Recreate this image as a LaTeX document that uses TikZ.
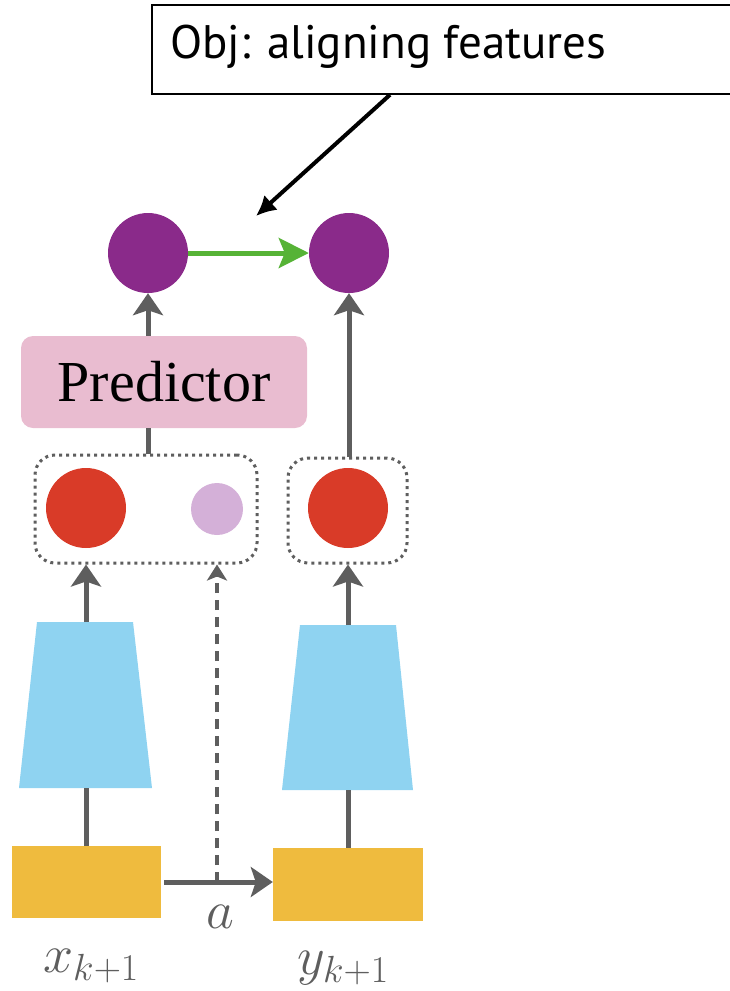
\RequirePackage{fix-cm}
\documentclass[tikz,border=0pt]{standalone}
\usepackage{fontspec}
\usepackage{amsmath,amssymb}
\usetikzlibrary{arrows.meta}
\newfontfamily\objfont{PT Sans}
\newfontfamily\predfont{Liberation Serif}

\definecolor{embpurple}{HTML}{8A2A8A}
\definecolor{embred}{HTML}{D93B28}
\definecolor{actlilac}{HTML}{D4B0D8}
\definecolor{predpink}{HTML}{E9BCD0}
\definecolor{encblue}{HTML}{8FD3F1}
\definecolor{imgyellow}{HTML}{EFBB3E}
\definecolor{aligngreen}{HTML}{56B336}
\definecolor{flowgray}{HTML}{5E5E5E}

\begin{document}
\begin{tikzpicture}[x=1pt,y=-1pt,
    emb/.style={circle,fill=#1,minimum size=80pt,inner sep=0pt},
    group/.style={draw=flowgray,line width=3pt,dash pattern=on 3pt off 4pt,rounded corners=20pt,inner sep=0pt},
    image/.style={fill=imgyellow,inner sep=0pt},
    flow/.style={draw=flowgray,line width=5pt,-{Stealth[length=22pt,width=30pt,inset=5pt]}},
    lbl/.style={text=flowgray,font=\fontsize{54}{60}\selectfont}]
  \useasboundingbox (0,0) rectangle (729,991);

  % inputs and action
  \node[image,minimum width=149pt,minimum height=72pt] (xin) at (86.5,882) {};
  \node[image,minimum width=150pt,minimum height=73pt] (yin) at (348,884.5) {};
  \node[lbl,anchor=base] at (91,972) {$x_{k+1}$};
  \node[lbl,anchor=base] at (343,974) {$y_{k+1}$};
  \node[lbl,anchor=base] at (220,928) {$a$};

  % encoders
  \fill[encblue] (37,622) -- (133,622) -- (152,788) -- (19,788) -- cycle;
  \fill[encblue] (300,625) -- (396,625) -- (413,790) -- (282,790) -- cycle;
  \coordinate (enclt) at (86,622);
  \coordinate (enclb) at (86,788);
  \coordinate (encrt) at (348,625);
  \coordinate (encrb) at (348,790);

  % encoded features
  \node[group,minimum width=222pt,minimum height=108pt] (boxl) at (146,509) {};
  \node[group,minimum width=119pt,minimum height=105pt] (boxr) at (347.5,510.5) {};
  \node[emb=embred] (zx) at (86,508) {};
  \node[emb=embred] (zy) at (348,508) {};
  \node[circle,fill=actlilac,minimum size=52pt,inner sep=0pt] (za) at (217,509) {};

  % predictor and targets
  \node[fill=predpink,rounded corners=12pt,minimum width=286pt,minimum height=92pt,
        font=\predfont\fontsize{58}{60}\selectfont] (pred) at (164,382) {Predictor};
  \node[emb=embpurple] (px) at (148,253) {};
  \node[emb=embpurple] (py) at (349,253) {};

  % connectors
  \draw[flowgray,line width=5pt] (xin.north -| enclb) -- (enclb);
  \draw[flowgray,line width=5pt] (yin.north -| encrb) -- (encrb);
  \draw[flow] (enclt) -- (boxl.south -| enclt);
  \draw[flow] (encrt) -- (boxr.south -| encrt);
  \draw[flow,shorten <=3pt] (xin.east) -- (xin.east -| yin.west);
  \draw[draw=flowgray,line width=4pt,dash pattern=on 10pt off 7pt,
        -{Stealth[length=16pt,width=20pt,inset=4pt]}] (za |- xin.east) -- (za |- boxl.south);
  \draw[flowgray,line width=5pt] (boxl.north -| px) -- (pred.south -| px);
  \draw[flow] (pred.north -| px) -- (px.south);
  \draw[flow] (boxr.north -| py) -- (py.south);
  \draw[draw=aligngreen,line width=5pt,-{Stealth[length=30pt,width=30pt,inset=6pt]}] (px.east) -- (py.west);

  % objective callout
  \node[draw,line width=1.5pt,minimum width=610pt,minimum height=89pt,inner sep=0pt] (obj) at (457,49.5) {};
  \node[anchor=base west,font=\objfont\fontsize{47}{50}\selectfont,inner sep=0pt] at (170,58) {Obj: aligning features};
  \coordinate (aim) at (256,216);
  \draw[line width=4pt,-{Latex[length=20pt,width=20pt]}] ([xshift=-67pt]obj.south) -- (aim);
\end{tikzpicture}
\end{document}
